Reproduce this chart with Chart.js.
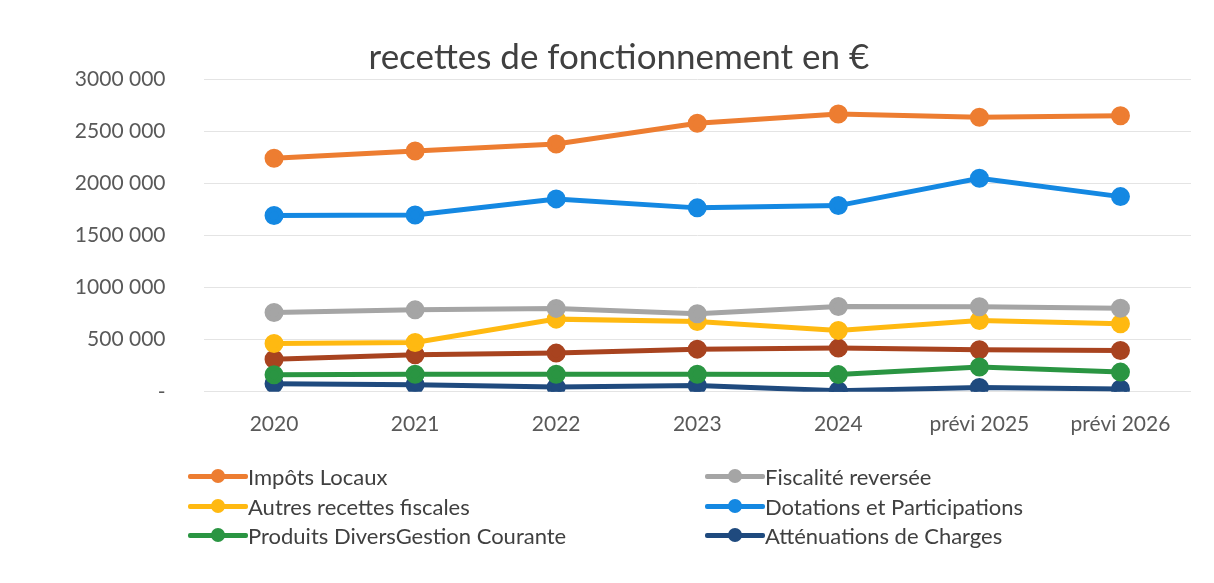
<!DOCTYPE html>
<html>
<head>
<meta charset="utf-8">
<script src="https://cdn.jsdelivr.net/npm/chart.js@4"></script>
<style>
  html, body { margin: 0; padding: 0; background: #fff; }
  #wrap { position: relative; width: 1214px; height: 583px; }
  #legend { position: absolute; left: 0; top: 0; width: 100%; height: 100%; pointer-events: none; }
  .item { position: absolute; display: flex; align-items: center; font-family: Lato, "Open Sans", sans-serif; font-size: 22px; color: #404040; }
  .mark { position: relative; width: 60px; height: 14px; margin-right: 0px; }
  .mark .ln { position: absolute; left: 0; right: 0; top: 5px; height: 5px; border-radius: 2px; }
  .mark .dot { position: absolute; left: 23px; top: 0; width: 14px; height: 14px; border-radius: 50%; }
</style>
</head>
<body>
<div id="wrap">
  <canvas id="chart" width="1214" height="583"></canvas>
  <div id="legend"></div>
</div>
<script>
// catégories
const annees = ["2020", "2021", "2022", "2023", "2024", "prévi 2025", "prévi 2026"];

// séries (en €)
const impotsLocaux = [2240000, 2310000, 2377000, 2575000, 2665000, 2633000, 2648000];
const fiscaliteReversee = [760000, 786000, 800000, 748000, 818000, 815000, 802000];
const autresRecettesFiscales = [463000, 473000, 697000, 674000, 588000, 684000, 652000];
const dotationsParticipations = [1690000, 1696000, 1850000, 1764000, 1786000, 2048000, 1872000];
const produitsDivers = [163000, 169000, 169000, 169000, 165000, 237000, 189000];
const attenuationsCharges = [77000, 67000, 45000, 60000, 10000, 42000, 26000];
const serieSansNom = [313000, 355000, 371000, 409000, 419000, 403000, 396000];

// graduations de l'axe Y
const yTicks = [0, 500000, 1000000, 1500000, 2000000, 2500000, 3000000];
const yTickLabels = ["-", "500 000", "1000 000", "1500 000", "2000 000", "2500 000", "3000 000"];

const series = [
    { label: "Impôts Locaux", data: impotsLocaux, color: "#ED7D31", legend: true },
    { label: "Fiscalité reversée", data: fiscaliteReversee, color: "#A5A5A5", legend: true },
    { label: "Autres recettes fiscales", data: autresRecettesFiscales, color: "#FFB911", legend: true },
    { label: "Dotations et Participations", data: dotationsParticipations, color: "#1488E2", legend: true },
    { label: "Produits DiversGestion Courante", data: produitsDivers, color: "#2A9542", legend: true },
    { label: "Atténuations de Charges", data: attenuationsCharges, color: "#1F4A7E", legend: true },
    { label: "", data: serieSansNom, color: "#A8431F", legend: false }
];

const datasets = series.map(s => ({
    label: s.label,
    data: s.data,
    borderColor: s.color,
    backgroundColor: s.color,
    pointBackgroundColor: s.color,
    pointBorderColor: s.color,
    borderWidth: 5,
    pointRadius: 7,
    pointHoverRadius: 7,
    tension: 0
}));

const fontFam = "Lato, 'Open Sans', sans-serif";

new Chart(document.getElementById("chart").getContext("2d"), {
    type: "line",
    data: { labels: annees, datasets: datasets },
    options: {
        responsive: false,
        animation: false,
        layout: { padding: { left: 47, right: 23, top: 34, bottom: 126 } },
        plugins: {
            legend: { display: false },
            tooltip: { enabled: false },
            title: {
                display: true,
                text: "recettes de fonctionnement en €",
                color: "#404040",
                font: { family: fontFam, size: 35, weight: "normal" },
                padding: { top: 3, bottom: 0 }
            }
        },
        scales: {
            x: {
                offset: true,
                grid: { display: false, drawTicks: false },
                border: { display: false },
                ticks: {
                    color: "#595959",
                    padding: 20,
                    maxRotation: 0,
                    font: { family: fontFam, size: 21 }
                }
            },
            y: {
                min: 0,
                max: 3000000,
                afterBuildTicks: scale => { scale.ticks = yTicks.map(v => ({ value: v })); },
                afterFit: scale => { scale.width = 156.5; },
                grid: { color: "#e4e4e4", lineWidth: 1, drawTicks: false },
                border: { display: false },
                ticks: {
                    color: "#595959",
                    padding: 38,
                    font: { family: fontFam, size: 21 },
                    callback: value => {
                        const i = yTicks.indexOf(value);
                        return i >= 0 ? yTickLabels[i] : "";
                    }
                }
            }
        }
    }
});

// légende en deux colonnes
const legendPos = [
    { x: 188, y: 476 }, { x: 705, y: 476 },
    { x: 188, y: 506 }, { x: 705, y: 506 },
    { x: 188, y: 535 }, { x: 705, y: 535 }
];
const legendBox = document.getElementById("legend");
series.filter(s => s.legend).forEach((s, i) => {
    const item = document.createElement("div");
    item.className = "item";
    item.style.left = legendPos[i].x + "px";
    item.style.top = (legendPos[i].y - 12) + "px";
    item.style.height = "24px";
    item.innerHTML = '<span class="mark"><span class="ln" style="background:' + s.color + '"></span>' +
        '<span class="dot" style="background:' + s.color + '"></span></span><span></span>';
    item.lastChild.textContent = s.label;
    legendBox.appendChild(item);
});
</script>
</body>
</html>
